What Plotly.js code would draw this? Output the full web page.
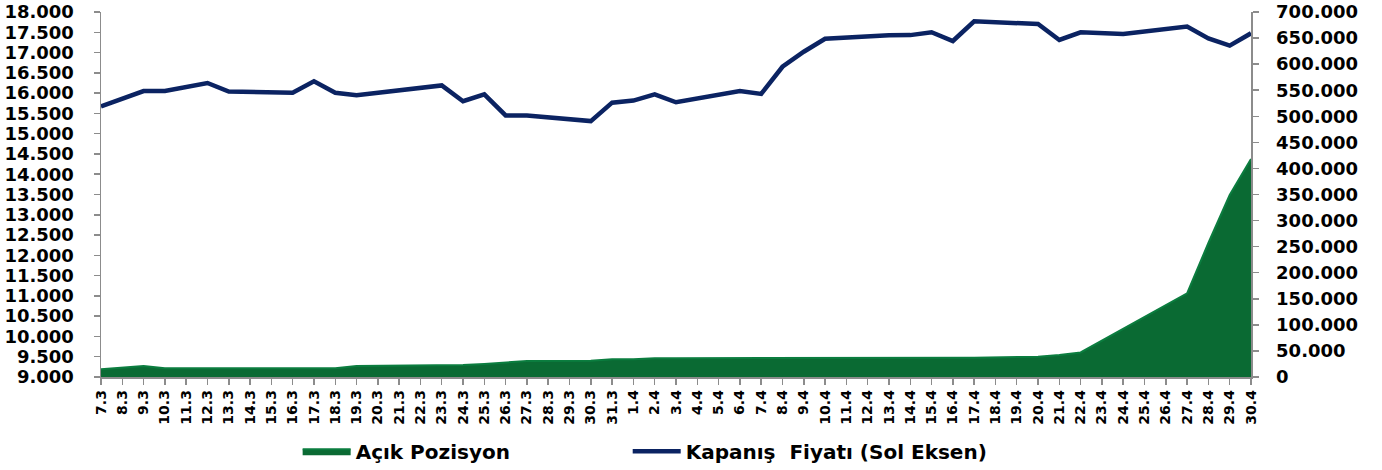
<!DOCTYPE html>
<html><head><meta charset="utf-8">
<script src="https://cdn.plot.ly/plotly-3.0.1.min.js"></script>
<style>body{margin:0;background:#fff}#chart{width:1382px;height:470px}</style>
</head><body><div id="chart"></div>
<script>
const allDays = ['7.3','8.3','9.3','10.3','11.3','12.3','13.3','14.3','15.3','16.3','17.3','18.3','19.3','20.3','21.3','22.3','23.3','24.3','25.3','26.3','27.3','28.3','29.3','30.3','31.3',
  '1.4','2.4','3.4','4.4','5.4','6.4','7.4','8.4','9.4','10.4','11.4','12.4','13.4','14.4','15.4','16.4','17.4','18.4','19.4','20.4','21.4','22.4','23.4','24.4','25.4','26.4','27.4','28.4','29.4','30.4'];
const tradeDays = ['7.3','9.3','10.3','11.3','12.3','13.3','16.3','17.3','18.3','19.3','23.3','24.3','25.3','26.3','27.3','30.3','31.3',
  '1.4','2.4','3.4','6.4','7.4','8.4','9.4','10.4','13.4','14.4','15.4','16.4','17.4','20.4','21.4','22.4','24.4','27.4','28.4','29.4','30.4'];
const closePrice = [15670,16050,16055,16145,16250,16040,16010,16290,16010,15950,16190,15800,15970,15450,15450,15310,15765,
  15815,15970,15775,16050,15980,16650,17020,17340,17425,17430,17500,17285,17770,17705,17310,17500,17460,17640,17350,17170,17475];
const openPosition = [15000,21000,17000,17000,17000,17000,17000,17000,17000,21000,22000,23000,25000,28000,30700,31000,34000,
  34000,36000,36000,36000,36000,36000,36000,36000,36000,36000,36000,36500,37000,39000,42000,47000,92000,160500,257000,349000,418000];
const priceTicks = [9000,9500,10000,10500,11000,11500,12000,12500,13000,13500,14000,14500,15000,15500,16000,16500,17000,17500,18000];
const oiTicks = [0,50000,100000,150000,200000,250000,300000,350000,400000,450000,500000,550000,600000,650000,700000];

const F = 'DejaVu Sans';
const traces = [
  {x: tradeDays, y: openPosition, name: 'Açık Pozisyon', type: 'scatter', mode: 'lines', legend: 'legend',
   fill: 'tozeroy', fillcolor: '#0a6a33', line: {color: '#0b7d3f', width: 2}, yaxis: 'y', hoverinfo: 'skip'},
  {x: tradeDays, y: closePrice, name: 'Kapanış\u00a0 Fiyatı (Sol Eksen)', type: 'scatter', mode: 'lines', legend: 'legend2',
   line: {color: '#0b2362', width: 4.5}, yaxis: 'y2', hoverinfo: 'skip'}
];
const axisCommon = {showgrid: false, zeroline: false, showline: true, linecolor: '#8c8c8c', linewidth: 1.5,
  ticks: 'outside', tickcolor: '#8c8c8c', ticklen: 6, tickwidth: 1.5, automargin: false,
  tickfont: {family: F, size: 18, color: '#000', weight: 'bold'}};
const legendCommon = {orientation: 'h', xanchor: 'left', yref: 'container', y: 0.04, yanchor: 'middle',
  font: {family: F, size: 20, color: '#000', weight: 'bold'}, itemwidth: 48, bgcolor: 'rgba(0,0,0,0)'};
const layout = {
  width: 1382, height: 470,
  margin: {l: 101, r: 131, t: 12, b: 93},
  paper_bgcolor: '#fff', plot_bgcolor: '#fff',
  separators: ',.',
  showlegend: true,
  legend: Object.assign({}, legendCommon, {x: 0.171}),
  legend2: Object.assign({}, legendCommon, {x: 0.458}),
  xaxis: Object.assign({}, axisCommon, {type: 'category', categoryorder: 'array', categoryarray: allDays,
    tickmode: 'array', tickvals: allDays, ticktext: allDays,
    range: [0, allDays.length - 1], tickangle: -90, tickfont: {family: F, size: 14, color: '#000', weight: 'bold'}}),
  yaxis: Object.assign({}, axisCommon, {side: 'right', range: [0, 700000], tickmode: 'array', tickvals: oiTicks,
    tickformat: ',d', ticklabelstandoff: 14}),
  yaxis2: Object.assign({}, axisCommon, {side: 'left', overlaying: 'y', range: [9000, 18000], tickmode: 'array',
    tickvals: priceTicks, tickformat: ',d', ticklabelstandoff: 16})
};
Plotly.newPlot('chart', traces, layout, {displayModeBar: false, staticPlot: true});
</script></body></html>
